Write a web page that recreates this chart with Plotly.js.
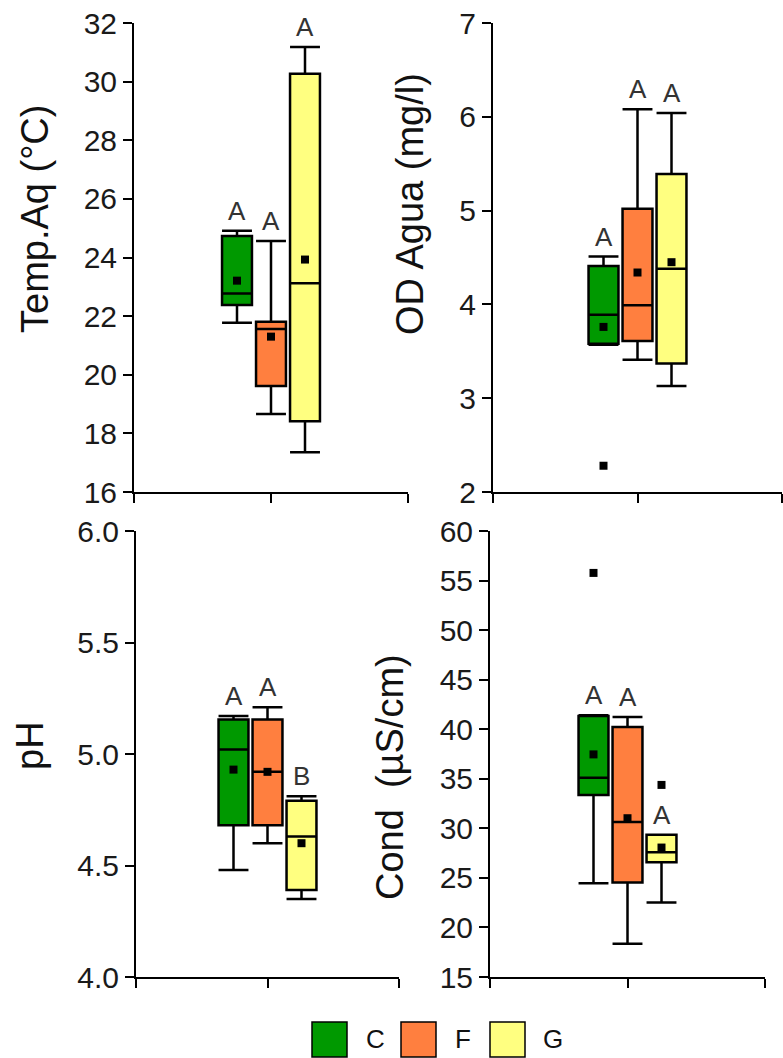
<!DOCTYPE html>
<html>
<head>
<meta charset="utf-8">
<script src="https://cdn.plot.ly/plotly-3.0.1.min.js"></script>
<style>html,body{margin:0;padding:0;background:#fff;}#chart{width:783px;height:1058px;}</style>
</head>
<body>
<div id="chart"></div>
<script>
// ---------- DATA ----------
const groups = ["C", "F", "G"];

// Temp.Aq (°C)
const tempLow    = [21.77, 18.66, 17.36];
const tempQ1     = [22.38, 19.62, 18.41];
const tempMedian = [22.77, 21.56, 23.12];
const tempQ3     = [24.73, 21.81, 30.27];
const tempHigh   = [24.91, 24.56, 31.18];
const tempMean   = [23.21, 21.30, 23.93];
const tempOutliers = [[], [], []];
const tempLetters  = ["A", "A", "A"];

// OD Agua (mg/l)
const odLow    = [3.57, 3.41, 3.13];
const odQ1     = [3.58, 3.61, 3.37];
const odMedian = [3.89, 3.99, 4.38];
const odQ3     = [4.41, 5.02, 5.39];
const odHigh   = [4.51, 6.08, 6.04];
const odMean   = [3.76, 4.34, 4.45];
const odOutliers = [[2.28], [], []];
const odLetters  = ["A", "A", "A"];

// pH
const phLow    = [4.48, 4.60, 4.35];
const phQ1     = [4.68, 4.68, 4.39];
const phMedian = [5.02, 4.92, 4.63];
const phQ3     = [5.155, 5.155, 4.79];
const phHigh   = [5.17, 5.21, 4.81];
const phMean   = [4.93, 4.92, 4.60];
const phOutliers = [[], [], []];
const phLetters  = ["A", "A", "B"];

// Cond (µS/cm)
const condLow    = [24.47, 18.36, 22.52];
const condQ1     = [33.37, 24.54, 26.58];
const condMedian = [35.11, 30.65, 27.59];
const condQ3     = [41.33, 40.22, 29.34];
const condHigh   = [41.40, 41.23, 29.34];
const condMean   = [37.46, 31.02, 28.06];
const condOutliers = [[55.77], [], [34.38]];
const condLetters  = ["A", "A", "A"];

const yTitles = ["Temp.Aq (°C)", "OD Agua (mg/l)", "pH", "Cond  (µS/cm)"];
const yRanges = [[16, 32], [2, 7], [4, 6], [15, 60]];
const yDticks = [2, 1, 0.5, 5];

// ---------- STYLE / LAYOUT ----------
const W = 783, H = 1058;
const FONT = "Liberation Sans, Arial, sans-serif";
const fillColors = ["#009900", "#FF7F3F", "#FFFF80"];
const SPACING_PX = 34;   // distance between neighbouring boxes
const BOX_FRAC = 0.88;   // box width as fraction of spacing

const panelBoxes = [ // pixel frames of each plot area
  {x0: 134, x1: 408, y0: 23,  y1: 492, tx: 35,  ty: 219, fmt: ""},
  {x0: 493, x1: 782, y0: 23,  y1: 492, tx: 410, ty: 204, fmt: ""},
  {x0: 136, x1: 399, y0: 531, y1: 977, tx: 30,  ty: 745, fmt: ".1f"},
  {x0: 490, x1: 765, y0: 531, y1: 977, tx: 390, ty: 777, fmt: ""}
];

const stats = [
  {low: tempLow, q1: tempQ1, med: tempMedian, q3: tempQ3, high: tempHigh, mean: tempMean, out: tempOutliers, letters: tempLetters},
  {low: odLow, q1: odQ1, med: odMedian, q3: odQ3, high: odHigh, mean: odMean, out: odOutliers, letters: odLetters},
  {low: phLow, q1: phQ1, med: phMedian, q3: phQ3, high: phHigh, mean: phMean, out: phOutliers, letters: phLetters},
  {low: condLow, q1: condQ1, med: condMedian, q3: condQ3, high: condHigh, mean: condMean, out: condOutliers, letters: condLetters}
];

const traces = [];
const annotations = [];
const shapes = [];
const layout = {
  width: W, height: H,
  margin: {l: 0, r: 0, t: 0, b: 0},
  paper_bgcolor: "#ffffff",
  plot_bgcolor: "rgba(0,0,0,0)",
  showlegend: false,
  font: {family: FONT, color: "#222"}
};

stats.forEach((s, p) => {
  const pb = panelBoxes[p];
  const n = p + 1;
  const xa = n === 1 ? "x" : "x" + n;
  const ya = n === 1 ? "y" : "y" + n;
  const half = (pb.x1 - pb.x0) / 2 / SPACING_PX;
  const xr = [-half, half];

  layout[n === 1 ? "xaxis" : "xaxis" + n] = {
    domain: [pb.x0 / W, pb.x1 / W],
    anchor: ya,
    range: xr,
    fixedrange: true,
    showgrid: false, zeroline: false,
    showline: true, linecolor: "#000", linewidth: 2,
    ticks: "outside", ticklen: 9, tickwidth: 2, tickcolor: "#000",
    tickmode: "array", tickvals: [xr[0], 0, xr[1]],
    showticklabels: false
  };
  layout[n === 1 ? "yaxis" : "yaxis" + n] = {
    domain: [1 - pb.y1 / H, 1 - pb.y0 / H],
    anchor: xa,
    range: yRanges[p],
    dtick: yDticks[p], tick0: yRanges[p][0],
    tickformat: pb.fmt,
    showgrid: false, zeroline: false,
    showline: true, linecolor: "#000", linewidth: 2,
    ticks: "outside", ticklen: 9, tickwidth: 2, tickcolor: "#000",
    tickfont: {family: FONT, size: 30, color: "#1a1a1a"}
  };

  groups.forEach((g, i) => {
    const pos = i - 1;
    traces.push({
      type: "box", name: g, xaxis: xa, yaxis: ya,
      x: [pos],
      q1: [s.q1[i]], median: [s.med[i]], q3: [s.q3[i]],
      lowerfence: [s.low[i]], upperfence: [s.high[i]],
      width: BOX_FRAC,
      whiskerwidth: 1,
      boxpoints: false,
      fillcolor: fillColors[i],
      line: {color: "#000", width: 2.5},
      hoverinfo: "skip"
    });
    traces.push({
      type: "scatter", mode: "markers", name: g + " mean", xaxis: xa, yaxis: ya,
      x: [pos], y: [s.mean[i]],
      marker: {symbol: "square", size: 8, color: "#000"},
      hoverinfo: "skip"
    });
    if (s.out[i].length) {
      traces.push({
        type: "scatter", mode: "markers", name: g + " outlier", xaxis: xa, yaxis: ya,
        x: s.out[i].map(() => pos), y: s.out[i],
        marker: {symbol: "square", size: 8, color: "#000"},
        hoverinfo: "skip"
      });
    }
    annotations.push({
      xref: xa, yref: ya, x: pos, y: s.high[i],
      text: s.letters[i], showarrow: false,
      xanchor: "center", yanchor: "bottom", yshift: 3,
      font: {family: FONT, size: 26, color: "#333"}
    });
  });

  annotations.push({
    xref: "paper", yref: "paper", x: pb.tx / W, y: 1 - pb.ty / H,
    text: yTitles[p], textangle: -90, showarrow: false,
    xanchor: "center", yanchor: "middle",
    font: {family: FONT, size: 38, color: "#111"}
  });
});

// Legend drawn as big squares with labels
const legendBoxX = [312, 401, 490];
const legendTextX = [375, 463, 553];
groups.forEach((g, i) => {
  shapes.push({
    type: "rect", xref: "paper", yref: "paper",
    x0: legendBoxX[i] / W, x1: (legendBoxX[i] + 35) / W,
    y0: 1 - 1057 / H, y1: 1 - 1022 / H,
    fillcolor: fillColors[i], line: {color: "#000", width: 1.5}
  });
  annotations.push({
    xref: "paper", yref: "paper", x: legendTextX[i] / W, y: 1 - 1039 / H,
    text: g, showarrow: false, xanchor: "center", yanchor: "middle",
    font: {family: FONT, size: 26, color: "#111"}
  });
});

layout.annotations = annotations;
layout.shapes = shapes;

Plotly.newPlot("chart", traces, layout, {staticPlot: true, displayModeBar: false});
</script>
</body>
</html>
